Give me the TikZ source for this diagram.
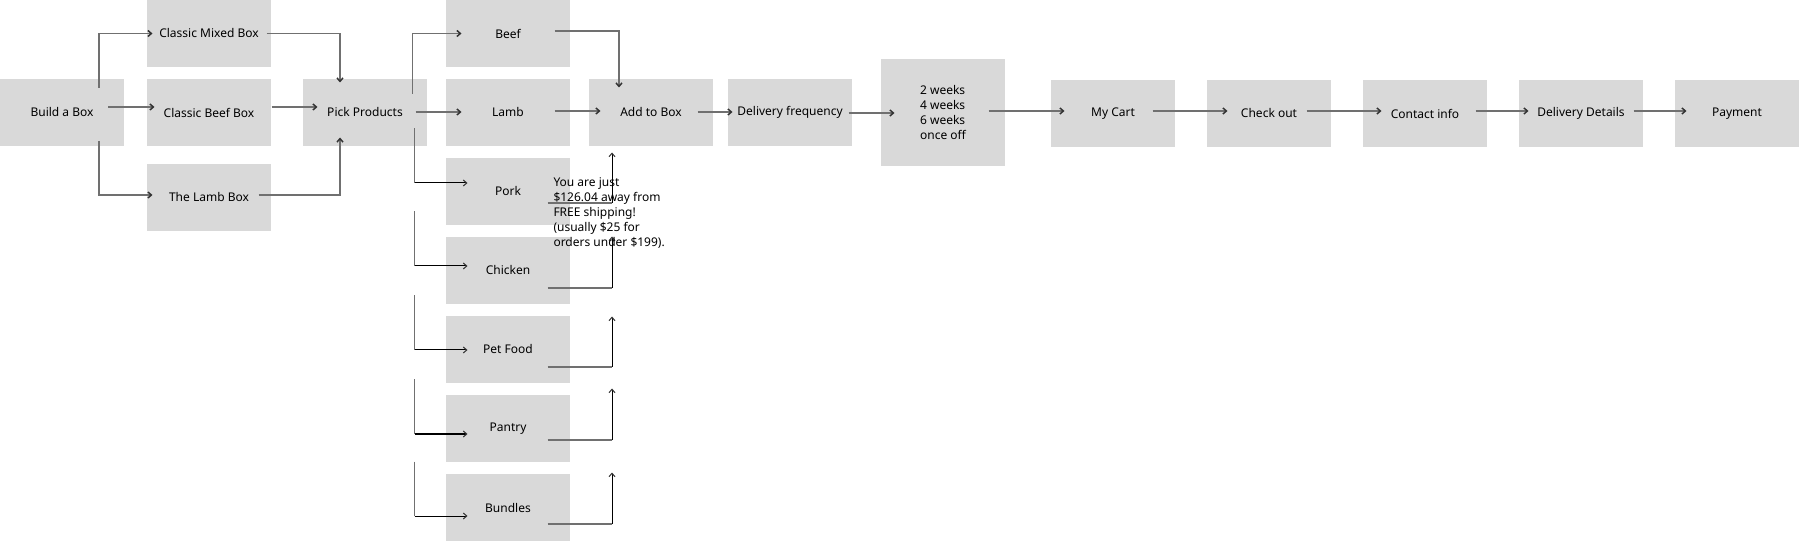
\documentclass[tikz,border=0pt]{standalone}
\usepackage{fontspec}
\setmainfont{Noto Sans}
\usetikzlibrary{calc,arrows.meta}

\definecolor{boxgray}{RGB}{217,217,217}
\definecolor{linegray}{RGB}{112,112,112}
\definecolor{tipgray}{RGB}{50,50,50}

\tikzset{every picture/.style={line width=0.75pt}}
\tikzset{
  stepbox/.style={fill=boxgray, draw=none, minimum width=93pt, minimum height=50.25pt, inner sep=0pt, font=\fontsize{9}{11.25}\selectfont, align=center},
  notetext/.style={inner sep=0pt, font=\fontsize{9}{11.25}\selectfont, align=left},
  link/.style={draw=linegray, line width=1.1pt},
  linkdark/.style={draw=black, line width=0.75pt},
  arrowend/.style={-{Straight Barb[length=2.6pt,width=4.5pt,color=tipgray]}},
}

\begin{document}
\begin{tikzpicture}[x=0.75pt,y=0.75pt,yscale=-1,xscale=1]
\useasboundingbox (0,0) rectangle (1799,541);

%Shape: Rectangle boxes
\node[stepbox] (build) at (62,112.5) {Build a Box};
\node[stepbox] (mixed) at (209,33.5) {Classic Mixed Box};
\node[stepbox] (beefbox) at (209,112.5) {Classic Beef Box};
\node[stepbox] (lambbox) at (209,197.5) {The Lamb Box};
\node[stepbox] (pick) at (365,112.5) {Pick Products};
\node[stepbox] (beef) at (508,33.5) {Beef};
\node[stepbox] (lamb) at (508,112.5) {Lamb};
\node[stepbox] (pork) at (508,191.5) {Pork};
\node[stepbox] (chicken) at (508,270.5) {Chicken};
\node[stepbox] (petfood) at (508,349.5) {Pet Food};
\node[stepbox] (pantry) at (508,428.5) {Pantry};
\node[stepbox] (bundles) at (508,507.5) {Bundles};
\node[stepbox] (add) at (651,112.5) {Add to Box};
\node[stepbox] (freq) at (790,112.5) {Delivery frequency};
\node[stepbox, minimum height=80.25pt, align=left] (weeks) at (943,112.5) {2 weeks\\4 weeks\\6 weeks\\once off};
\node[stepbox] (cart) at (1113,113.5) {My Cart};
\node[stepbox] (checkout) at (1269,113.5) {Check out};
\node[stepbox] (contact) at (1425,113.5) {Contact info};
\node[stepbox] (details) at (1581,113.5) {Delivery Details};
\node[stepbox] (payment) at (1737,113.5) {Payment};

%Connectors: Build a Box to the boxes
\draw[link,arrowend] ($(build)+(37,-24.5)$) |- ($(mixed.west)+(6,0)$);
\draw[link,arrowend] ($(build)+(46,-5.5)$) -- ($(beefbox.west)+(8,-5.5)$);
\draw[link,arrowend] ($(build)+(37,28.5)$) |- ($(lambbox.west)+(6,-2.5)$);
%Connectors: boxes to Pick Products
\draw[link,arrowend] ($(mixed.east)+(-5,0)$) -| ($(pick.north)+(-25,4)$);
\draw[link,arrowend] ($(beefbox.east)+(0,-5.5)$) -- ($(pick.west)+(15,-5.5)$);
\draw[link,arrowend] ($(lambbox.east)+(-13,-2.5)$) -| ($(pick.south)+(-25,-9)$);
%Connectors: Pick Products to the products
\draw[link,arrowend] ($(pick.east)+(-15,-18.5)$) |- ($(beef.west)+(16,0)$);
\draw[link,arrowend] ($(pick.east)+(-12,-0.5)$) -- ($(lamb.west)+(16,-0.5)$);
\foreach \prod/\up/\dy in {pork/29/-8.5, chicken/25/-4.5, petfood/20/0.5, pantry/15/5.5, bundles/12/8.5} {
  \coordinate (prodstart) at ($(pick.east |- \prod.north)+(-13,-\up)$);
  \coordinate (prodend) at ($(\prod.west)+(22,\dy)$);
  \draw[link] (prodstart) -- (prodstart |- prodend);
  \draw[linkdark,arrowend] (prodstart |- prodend) -- (prodend);
}
%Connectors: products to Add to Box
\draw[link,arrowend] ($(beef.east)+(-16,-2.5)$) -| ($(add.north)+(-32,9)$);
\draw[link,arrowend] ($(lamb.east)+(-16,-1.5)$) -- ($(add.west)+(12,-1.5)$);
\foreach \prod/\dy/\dt in {pork/11.5/-5, chicken/17.5/0, petfood/17.5/1, pantry/11.5/-6, bundles/16.5/-1} {
  \coordinate (addstart) at ($(\prod.east)+(-23,\dy)$);
  \coordinate (addend) at ($(\prod.north -| add.south)+(-39,\dt)$);
  \draw[link] (addstart) -- (addstart -| addend);
  \draw[linkdark,arrowend] (addstart -| addend) -- (addend);
}
%Connectors: checkout row
\draw[link,arrowend] ($(add.east)+(-16,-0.5)$) -- ($(freq.west)+(5,-0.5)$);
\draw[link,arrowend] ($(freq.east)+(-4,0.5)$) -- ($(weeks.west)+(14,0.5)$);
\draw[link,arrowend] ($(weeks.east)+(-17,-1.5)$) -- ($(cart.west)+(14,-2.5)$);
\draw[link,arrowend] ($(cart.east)+(-23,-2.5)$) -- ($(checkout.west)+(21,-2.5)$);
\draw[link,arrowend] ($(checkout.east)+(-25,-2.5)$) -- ($(contact.west)+(19,-2.5)$);
\draw[link,arrowend] ($(contact.east)+(-12,-2.5)$) -- ($(details.west)+(10,-2.5)$);
\draw[link,arrowend] ($(details.east)+(-10,-2.5)$) -- ($(payment.west)+(12,-2.5)$);

% Text Node
\node[notetext, anchor=north west] (note) at (553,177) {You are just\\\$126.04 away from\\FREE shipping!\\(usually \$25 for\\orders under \$199).};
\end{tikzpicture}
\end{document}
